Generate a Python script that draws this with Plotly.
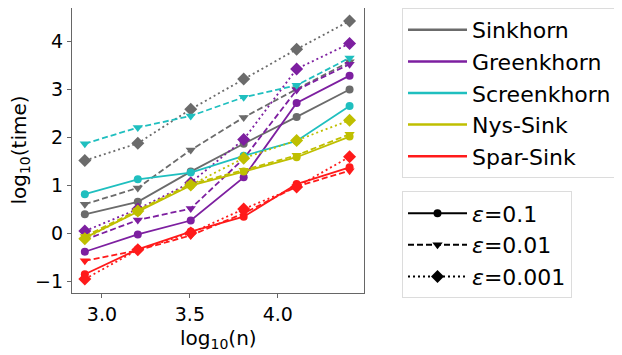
import plotly.graph_objects as go

# log10(n)
x_vals = [2.903, 3.204, 3.505, 3.806, 4.107, 4.408]

methods = ["Sinkhorn", "Greenkhorn", "Screenkhorn", "Nys-Sink", "Spar-Sink"]
colors = ["#6b6b6b", "#7d1fa0", "#1fbfbf", "#bfbf00", "#ff1a1a"]

# log10(time) for eps = 0.1 / 0.01 / 0.001
sinkhorn_e1 = [0.39, 0.65, 1.28, 1.86, 2.42, 2.99]
sinkhorn_e2 = [0.60, 0.94, 1.73, 2.41, 3.00, 3.57]
sinkhorn_e3 = [1.51, 1.87, 2.58, 3.21, 3.83, 4.42]

greenkhorn_e1 = [-0.39, -0.03, 0.26, 1.16, 2.71, 3.28]
greenkhorn_e2 = [-0.14, 0.27, 0.51, 1.55, 2.98, 3.52]
greenkhorn_e3 = [0.04, 0.50, 1.05, 1.95, 3.42, 3.95]

screenkhorn_e1 = [0.81, 1.12, 1.26, 1.61, 1.92, 2.65]
screenkhorn_e2 = [1.86, 2.20, 2.44, 2.83, 3.08, 3.65]

nys_e1 = [-0.10, 0.44, 0.99, 1.28, 1.58, 2.01]
nys_e2 = [-0.07, 0.47, 1.02, 1.31, 1.62, 2.06]
nys_e3 = [-0.12, 0.46, 1.00, 1.56, 1.93, 2.35]

spar_e1 = [-0.86, -0.34, 0.03, 0.34, 1.02, 1.37]
spar_e2 = [-0.58, -0.36, -0.05, 0.41, 0.97, 1.30]
spar_e3 = [-0.96, -0.35, 0.00, 0.50, 0.96, 1.59]

eps_labels = ["<i>ε</i>=0.1", "<i>ε</i>=0.01", "<i>ε</i>=0.001"]
dashes = ["solid", "6px,3px", "2px,3px"]
symbols = ["circle", "triangle-down", "diamond"]
msizes = [8, 9, 10]

series = [
    (0, [sinkhorn_e1, sinkhorn_e2, sinkhorn_e3]),
    (1, [greenkhorn_e1, greenkhorn_e2, greenkhorn_e3]),
    (2, [screenkhorn_e1, screenkhorn_e2]),
    (3, [nys_e1, nys_e2, nys_e3]),
    (4, [spar_e1, spar_e2, spar_e3]),
]

fig = go.Figure()

for mi, ys_list in series:
    for ei, ys in enumerate(ys_list):
        fig.add_trace(go.Scatter(
            x=x_vals, y=ys, mode="lines+markers",
            line=dict(color=colors[mi], width=1.8, dash=dashes[ei]),
            marker=dict(symbol=symbols[ei], size=msizes[ei], color=colors[mi]),
            showlegend=False, hoverinfo="skip"))

# legend entries for methods
for mi, name in enumerate(methods):
    fig.add_trace(go.Scatter(
        x=[None], y=[None], mode="lines", name=name,
        line=dict(color=colors[mi], width=2.5), legend="legend",
        legendgroup="m%d" % mi))

# legend entries for eps
for ei, lab in enumerate(eps_labels):
    fig.add_trace(go.Scatter(
        x=[None], y=[None], mode="lines+markers", name=lab,
        line=dict(color="black", width=2, dash=dashes[ei]),
        marker=dict(symbol=symbols[ei], size=msizes[ei], color="black"),
        legend="legend2", legendgroup="e%d" % ei))

font_family = "DejaVu Sans"
axis_style = dict(
    showgrid=False, zeroline=False, showline=True, mirror=True,
    linecolor="#666", linewidth=1.2, ticks="outside", ticklen=4,
    tickcolor="#666", tickfont=dict(size=19), automargin=False)

# page body adds an 8px offset, so the figure is sized 8px smaller
fig.update_layout(
    width=614, height=347,
    margin=dict(l=64, r=4, t=0, b=62),
    paper_bgcolor="white", plot_bgcolor="white",
    font=dict(family=font_family, size=19, color="black"),
    xaxis=dict(
        domain=[0, 0.5348],
        range=[2.83, 4.49], tickvals=[3.0, 3.5, 4.0], ticktext=["3.0", "3.5", "4.0"],
        **axis_style),
    yaxis=dict(
        range=[-1.25, 4.69], tickvals=[-1, 0, 1, 2, 3, 4],
        **axis_style),
    legend=dict(
        x=0.6044, y=1.0, xanchor="left", yanchor="top",
        bordercolor="#dcdcdc", borderwidth=1, bgcolor="white",
        font=dict(size=22), itemwidth=59, tracegroupgap=0),
    legend2=dict(
        x=0.6044, y=0.3565, xanchor="left", yanchor="top",
        bordercolor="#dcdcdc", borderwidth=1, bgcolor="white",
        font=dict(size=22), itemwidth=59, tracegroupgap=0),
    annotations=[
        dict(text="log<sub>10</sub>(n)", xref="x domain", yref="paper",
             x=0.5, y=-0.16, xanchor="center", yanchor="middle",
             showarrow=False, font=dict(size=20)),
        dict(text="log<sub>10</sub>(time)", xref="paper", yref="y domain",
             x=-0.097, y=0.5, xanchor="center", yanchor="middle",
             textangle=-90, showarrow=False, font=dict(size=20)),
    ],
)

fig.write_html("out.html")
